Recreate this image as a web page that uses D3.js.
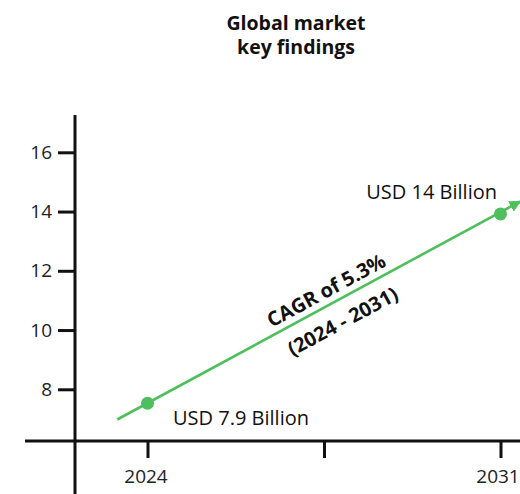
<!DOCTYPE html>
<html><head><meta charset="utf-8">
<script src="https://cdn.jsdelivr.net/npm/d3@7"></script>
<style>body{margin:0;background:#fff}svg{display:block}</style>
</head><body>
<script>
// Data
const years = [2024, 2031];
const values = [7.53, 13.92];
const pointLabels = ["USD 7.9 Billion", "USD 14 Billion"];
const yTicks = [8, 10, 12, 14, 16];
const xTicks = [2024, 2027.5, 2031];
const xTickLabels = ["2024", "", "2031"];
const trendYears = [2023.4, 2031.39];
const trendValues = [6.98, 14.34];
const titleLines = ["Global market", "key findings"];
const cagrLines = ["CAGR of 5.3%", "(2024 - 2031)"];

const W = 520, H = 494;
const FONT = "'Open Sans', sans-serif";
const GREEN = "#4dbf5c", INK = "#111";

const svg = d3.select("body").append("svg").attr("width", W).attr("height", H);

const x = d3.scaleLinear().domain([2024, 2031]).range([147.5, 500.5]);
const y = d3.scaleLinear().domain([8, 16]).range([389.3, 152.3]);

const axisX = 75, axisY = 441;

// title (two separate lines)
svg.selectAll("text.title").data(titleLines).join("text").attr("class", "title")
  .attr("x", 296).attr("y", (d, i) => 29.5 + i * 24.5).attr("text-anchor", "middle")
  .attr("font-family", FONT).attr("font-weight", 700).attr("font-size", 19.5).attr("fill", INK)
  .text(d => d);

// Y axis
const yAxis = d3.axisLeft(y).tickValues(yTicks).tickSize(17).tickPadding(6).tickFormat(d3.format("d"));
const gy = svg.append("g").attr("transform", `translate(${axisX},0)`).call(yAxis);
gy.select(".domain").remove();
gy.selectAll(".tick line").attr("stroke", INK).attr("stroke-width", 3);
gy.selectAll(".tick text").attr("font-family", FONT).attr("font-size", 19).attr("fill", "#222");
svg.append("line").attr("x1", axisX).attr("x2", axisX).attr("y1", 115).attr("y2", H)
  .attr("stroke", INK).attr("stroke-width", 3);

// X axis
const xAxis = d3.axisBottom(x).tickValues(xTicks).tickSize(17).tickPadding(12)
  .tickFormat((d, i) => xTickLabels[i]);
const gx = svg.append("g").attr("transform", `translate(0,${axisY})`).call(xAxis);
gx.select(".domain").remove();
gx.selectAll(".tick line").attr("stroke", INK).attr("stroke-width", 3);
gx.selectAll(".tick text").attr("font-family", FONT).attr("font-size", 19).attr("fill", "#222")
  .attr("dx", (d, i) => i === 0 ? -2 : (i === 2 ? -3 : 0));
svg.append("line").attr("x1", 25).attr("x2", W).attr("y1", axisY).attr("y2", axisY)
  .attr("stroke", INK).attr("stroke-width", 3);

// arrow marker
svg.append("defs").append("marker").attr("id", "arr")
  .attr("viewBox", "0 0 10 10").attr("refX", 9).attr("refY", 5)
  .attr("markerWidth", 4.5).attr("markerHeight", 4.5).attr("orient", "auto")
  .attr("markerUnits", "strokeWidth")
  .append("path").attr("d", "M0,0L10,5L0,10Z").attr("fill", GREEN);

// trend line
svg.append("line")
  .attr("x1", x(trendYears[0])).attr("y1", y(trendValues[0]))
  .attr("x2", x(trendYears[1])).attr("y2", y(trendValues[1]))
  .attr("stroke", GREEN).attr("stroke-width", 2.6).attr("marker-end", "url(#arr)");

// points
svg.selectAll("circle.pt").data(years).join("circle").attr("class", "pt")
  .attr("cx", d => x(d)).attr("cy", (d, i) => y(values[i])).attr("r", 6.5).attr("fill", GREEN);

// point labels
const labelPos = [{dx: 25.5, dy: 22, a: "start"}, {dx: -3.5, dy: -15, a: "end"}];
svg.selectAll("text.pl").data(pointLabels).join("text").attr("class", "pl")
  .attr("x", (d, i) => x(years[i]) + labelPos[i].dx)
  .attr("y", (d, i) => y(values[i]) + labelPos[i].dy)
  .attr("text-anchor", (d, i) => labelPos[i].a)
  .attr("font-family", FONT).attr("font-size", 20).attr("fill", "#111").text(d => d);

// CAGR text
const ang = Math.atan2(y(trendValues[1]) - y(trendValues[0]), x(trendYears[1]) - x(trendYears[0])) * 180 / Math.PI;
const cagrPos = [{x: 326, y: 290}, {x: 342.5, y: 321}];
svg.selectAll("text.cagr").data(cagrLines).join("text").attr("class", "cagr")
  .attr("transform", (d, i) => `translate(${cagrPos[i].x},${cagrPos[i].y}) rotate(${ang})`)
  .attr("text-anchor", "middle").attr("dominant-baseline", "central")
  .attr("font-family", FONT).attr("font-weight", 700).attr("font-size", 20).attr("fill", INK)
  .text(d => d);
</script>
</body></html>
